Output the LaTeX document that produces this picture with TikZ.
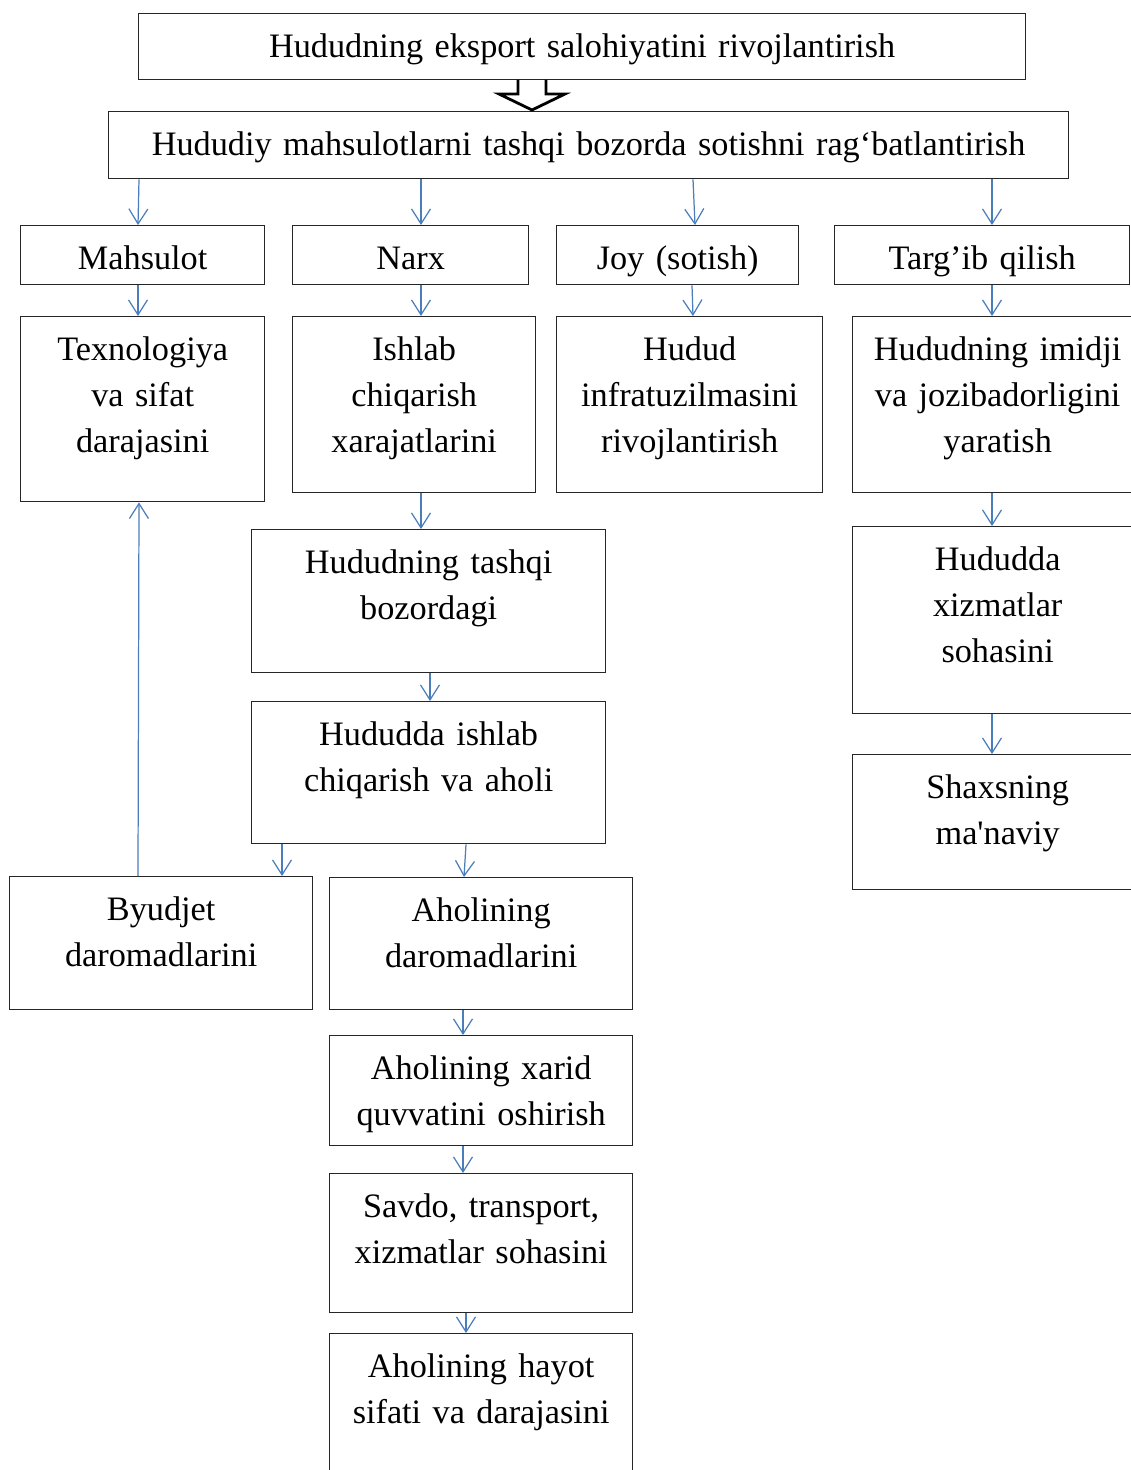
\documentclass[tikz,border=0pt]{standalone}
\usepackage{fontspec}
\setmainfont{Liberation Serif}
\usetikzlibrary{arrows.meta}
\definecolor{arrowblue}{RGB}{74,126,187}
\begin{document}
\begin{tikzpicture}[x=0.02cm, y=-0.02cm,
    box/.style={draw=black!85, line width=0.8pt, inner sep=0pt, align=center,
        anchor=north west, text height=0.88cm,
        font=\fontsize{19.5}{26}\selectfont},
    conn/.style={draw=arrowblue, line width=0.7pt,
        -{Straight Barb[length=0.3cm, width=0.38cm]}}]
        \useasboundingbox (0,0) rectangle (1131,1470);

        % Top level
        \node[box, text width=17.74cm, text depth=0.44cm] (goal) at (138,13) {Hududning eksport salohiyatini rivojlantirish};
        \node[box, text width=19.2cm, text depth=0.46cm] (sales) at (108,111) {Hududiy mahsulotlarni tashqi bozorda sotishni rag‘batlantirish};

        % Hollow arrow between the two top boxes
        \draw[line width=1.6pt, line join=miter] (518,80) -- (518,94) -- (499,94) -- (532,110)
            -- (565,94) -- (546,94) -- (546,80);

        % Marketing mix
        \node[box, text width=4.88cm, text depth=0.3cm] (product) at (20,225) {Mahsulot};
        \node[box, text width=4.72cm, text depth=0.3cm] (price) at (292,225) {Narx};
        \node[box, text width=4.84cm, text depth=0.3cm] (place) at (556,225) {Joy (sotish)};
        \node[box, text width=5.9cm, text depth=0.3cm] (promo) at (834,225) {Targ’ib qilish};

        % Second row
        \node[box, text width=4.88cm, text depth=2.82cm] (tech) at (20,316) {Texnologiya\\va sifat\\darajasini};
        \node[box, text width=4.86cm, text depth=2.64cm] (cost) at (292,316) {Ishlab\\chiqarish\\xarajatlarini};
        \node[box, text width=5.32cm, text depth=2.64cm] (infra) at (556,316) {Hudud\\infratuzilmasini\\rivojlantirish};
        \node[box, text width=5.8cm, text depth=2.64cm] (image) at (852,316) {Hududning imidji\\va jozibadorligini\\yaratish};

        % Price chain
        \node[box, text width=7.08cm, text depth=1.98cm] (market) at (251,529) {Hududning tashqi\\bozordagi};
        \node[box, text width=7.08cm, text depth=1.96cm] (prod) at (251,701) {Hududda ishlab\\chiqarish va aholi};
        \node[box, text width=6.06cm, text depth=1.78cm] (budget) at (9,876) {Byudjet\\daromadlarini};
        \node[box, text width=6.06cm, text depth=1.76cm] (income) at (329,877) {Aholining\\daromadlarini};
        \node[box, text width=6.06cm, text depth=1.32cm] (power) at (329,1035) {Aholining xarid\\quvvatini oshirish};
        \node[box, text width=6.06cm, text depth=1.9cm] (trade) at (329,1173) {Savdo, transport,\\xizmatlar sohasini};
        \node[box, text width=6.06cm, text depth=2.32cm] (life) at (329,1333) {Aholining hayot\\sifati va darajasini};

        % Promotion chain
        \node[box, text width=5.8cm, text depth=2.86cm] (service) at (852,526) {Hududda\\xizmatlar\\sohasini};
        \node[box, text width=5.8cm, text depth=1.82cm] (person) at (852,754) {Shaxsning\\ma\textquotesingle naviy};

        % Connectors
        \draw[conn] (sales.south -| 139,0) -- (product.north -| 138,0);
        \draw[conn] (sales.south -| 421,0) -- (price.north -| 421,0);
        \draw[conn] (sales.south -| 693,0) -- (place.north -| 695,0);
        \draw[conn] (sales.south -| 992,0) -- (promo.north -| 992,0);

        \draw[conn] (product.south -| 138,0) -- (tech.north -| 138,0);
        \draw[conn] (price.south -| 421,0) -- (cost.north -| 421,0);
        \draw[conn] (place.south -| 692,0) -- (infra.north -| 693,0);
        \draw[conn] (promo.south -| 992,0) -- (image.north -| 992,0);

        \draw[conn] (cost.south -| 421,0) -- (market.north -| 421,0);
        \draw[conn] (market.south -| 430,0) -- (prod.north -| 430,0);
        \draw[conn] (prod.south -| 282,0) -- (budget.north -| 282,0);
        \draw[conn] (prod.south -| 466,0) -- (income.north -| 464,0);
        \draw[conn] (budget.north -| 138,0) -- (tech.south -| 139,0);
        \draw[conn] (income.south -| 463,0) -- (power.north -| 463,0);
        \draw[conn] (power.south -| 463,0) -- (trade.north -| 463,0);
        \draw[conn] (trade.south -| 466,0) -- (life.north -| 466,0);

        \draw[conn] (image.south -| 992,0) -- (service.north -| 992,0);
        \draw[conn] (service.south -| 992,0) -- (person.north -| 992,0);

    \end{tikzpicture}
\end{document}
